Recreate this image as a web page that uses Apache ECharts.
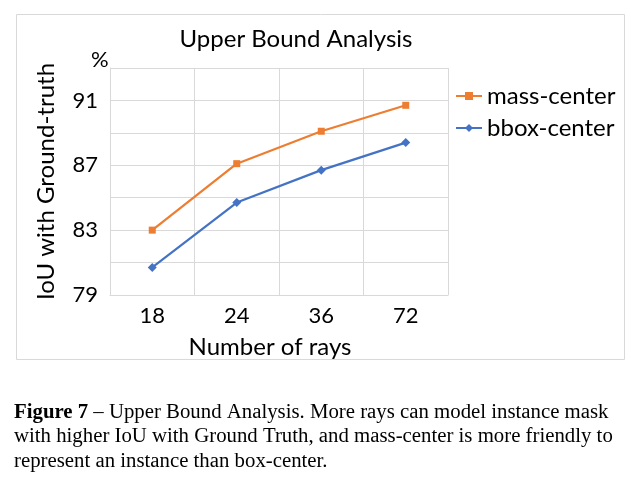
<!DOCTYPE html>
<html>
<head>
<meta charset="utf-8">
<script src="https://cdn.jsdelivr.net/npm/echarts@6/dist/echarts.min.js"></script>
<style>html,body{margin:0;padding:0;background:#fff}#c{width:631px;height:483px}</style>
</head>
<body>
<div id="c"></div>
<script>
const categories = ['18', '24', '36', '72'];
const massCenter = [83.0, 87.1, 89.1, 90.7];
const bboxCenter = [80.7, 84.7, 86.7, 88.4];
const yTicks = [79, 83, 87, 91];

const chart = echarts.init(document.getElementById('c'));
const F = 'Lato, "Open Sans", sans-serif';
chart.setOption({
  animation: false,
  backgroundColor: '#fff',
  graphic: [{
    type: 'rect', shape: {x: 16.5, y: 14.5, width: 608, height: 345},
    style: {fill: 'none', stroke: '#d9d9d9', lineWidth: 1}, z: -1
  }],
  title: [
    {text: 'Upper Bound Analysis', left: 291, top: 22, textAlign: 'center',
     textStyle: {fontFamily: F, fontSize: 24, fontWeight: 'normal', color: '#000'}},
    {text: '%', left: 86, top: 44,
     textStyle: {fontFamily: F, fontSize: 22, fontWeight: 'normal', color: '#000'}},
    {text: '{b|Figure 7} – Upper Bound Analysis. More rays can model instance mask\nwith higher IoU with Ground Truth, and mass-center is more friendly to\nrepresent an instance than box-center.',
     left: 9, top: 395,
     textStyle: {fontFamily: '"Liberation Serif", serif', fontSize: 20.8, fontWeight: 'normal', color: '#000', lineHeight: 24.5,
       rich: {b: {fontFamily: '"Liberation Serif", serif', fontSize: 20.8, fontWeight: 'bold', color: '#000', lineHeight: 24.5}}}}
  ],
  legend: {
    orient: 'vertical', left: 450, top: 79, itemGap: 8,
    itemWidth: 26, itemHeight: 10,
    textStyle: {fontFamily: F, fontSize: 24, color: '#000'},
    data: ['mass-center', 'bbox-center']
  },
  grid: {left: 110, right: 183, top: 68, bottom: 188},
  xAxis: {
    type: 'category', data: categories, boundaryGap: true,
    name: 'Number of rays', nameLocation: 'middle', nameGap: 40,
    nameTextStyle: {fontFamily: F, fontSize: 24, color: '#000', padding: [0, 18, 0, 0]},
    axisLine: {show: true, lineStyle: {color: '#d9d9d9'}},
    axisTick: {show: false},
    axisLabel: {fontFamily: F, fontSize: 22, color: '#000', margin: 10},
    splitLine: {show: true, lineStyle: {color: '#d9d9d9'}}
  },
  yAxis: {
    type: 'value', min: 79, max: 93, interval: 2,
    name: 'IoU with Ground-truth', nameLocation: 'middle', nameGap: 52,
    nameTextStyle: {fontFamily: F, fontSize: 24, color: '#000'},
    axisLine: {show: true, lineStyle: {color: '#d9d9d9'}},
    axisTick: {show: false},
    axisLabel: {fontFamily: F, fontSize: 22, color: '#000', margin: 12,
      formatter: v => yTicks.includes(v) ? String(v) : ''},
    splitLine: {show: true, lineStyle: {color: '#d9d9d9'}}
  },
  series: [
    {name: 'mass-center', type: 'line', data: massCenter, color: '#ED7D31',
     symbol: 'rect', symbolSize: 7, lineStyle: {width: 2.2}},
    {name: 'bbox-center', type: 'line', data: bboxCenter, color: '#4472C4',
     symbol: 'diamond', symbolSize: 9, lineStyle: {width: 2.2}}
  ]
});
</script>
</body>
</html>
